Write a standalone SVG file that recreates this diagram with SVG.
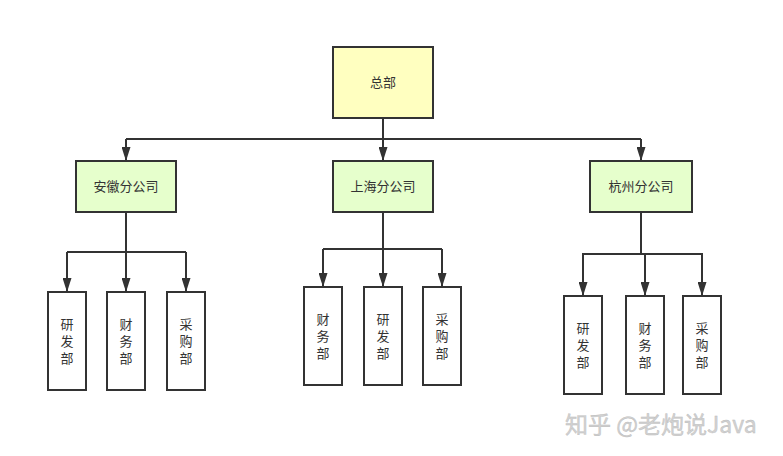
<svg xmlns="http://www.w3.org/2000/svg" width="783" height="456" viewBox="0 0 783 456">
<style>
.box{stroke:#333;stroke-width:2}
.top{fill:#ffffc0}
.br{fill:#e6ffcc}
.dep{fill:#fff}
.t{font-family:"Liberation Sans","Noto Sans CJK SC",sans-serif;font-size:13px;fill:#333;text-anchor:middle;dominant-baseline:central}
.ln{stroke:#333;stroke-width:2;fill:none}
.wm{font-family:"Noto Sans CJK SC","Liberation Sans",sans-serif;font-size:23px;fill:#d2d2d2;stroke:#bbb;stroke-width:0.4}
</style>
<defs>
<marker id="ah" viewBox="0 0 14 9" refX="13" refY="4.5" markerWidth="14" markerHeight="9" orient="auto" markerUnits="userSpaceOnUse">
<path d="M0,0 L14,4.5 L0,9 z" fill="#333"/>
</marker>
</defs>
<rect width="783" height="456" fill="#fff"/>
<g id="connectors">
<path class="ln" d="M383,118 V160"/>
<path class="ln" d="M126,139 H641"/>
<path class="ln" d="M126,139 V160" marker-end="url(#ah)"/>
<path class="ln" d="M383,139 V160" marker-end="url(#ah)"/>
<path class="ln" d="M641,139 V160" marker-end="url(#ah)"/>
<path class="ln" d="M126,212 V291" marker-end="url(#ah)"/>
<path class="ln" d="M67,252 H186"/>
<path class="ln" d="M67,252 V291" marker-end="url(#ah)"/>
<path class="ln" d="M186,252 V291" marker-end="url(#ah)"/>
<path class="ln" d="M383,212 V286" marker-end="url(#ah)"/>
<path class="ln" d="M323,249 H442"/>
<path class="ln" d="M323,249 V286" marker-end="url(#ah)"/>
<path class="ln" d="M442,249 V286" marker-end="url(#ah)"/>
<path class="ln" d="M641,212 V254 H583 V295" marker-end="url(#ah)"/>
<path class="ln" d="M641,254 H702 V295" marker-end="url(#ah)"/>
<path class="ln" d="M645,254 V295" marker-end="url(#ah)"/>
</g>
<g id="hq"><rect class="box top" x="333" y="47" width="100" height="71"/><text class="t" x="383" y="82.5">总部</text></g>
<g id="anhui"><rect class="box br" x="76" y="161" width="100" height="51"/><text class="t" x="126" y="186.5">安徽分公司</text></g>
<g id="shanghai"><rect class="box br" x="333" y="161" width="100" height="51"/><text class="t" x="383" y="186.5">上海分公司</text></g>
<g id="hangzhou"><rect class="box br" x="590" y="161" width="102" height="51"/><text class="t" x="641" y="186.5">杭州分公司</text></g>
<g id="ah-rd"><rect class="box dep" x="48" y="292" width="38" height="98"/><text class="t" x="67" y="324">研</text><text class="t" x="67" y="341">发</text><text class="t" x="67" y="358">部</text></g>
<g id="ah-fin"><rect class="box dep" x="107" y="292" width="38" height="98"/><text class="t" x="126" y="324">财</text><text class="t" x="126" y="341">务</text><text class="t" x="126" y="358">部</text></g>
<g id="ah-pur"><rect class="box dep" x="167" y="292" width="38" height="98"/><text class="t" x="186" y="324">采</text><text class="t" x="186" y="341">购</text><text class="t" x="186" y="358">部</text></g>
<g id="sh-fin"><rect class="box dep" x="304" y="287" width="38" height="98"/><text class="t" x="323" y="319">财</text><text class="t" x="323" y="336">务</text><text class="t" x="323" y="353">部</text></g>
<g id="sh-rd"><rect class="box dep" x="364" y="287" width="38" height="98"/><text class="t" x="383" y="319">研</text><text class="t" x="383" y="336">发</text><text class="t" x="383" y="353">部</text></g>
<g id="sh-pur"><rect class="box dep" x="423" y="287" width="38" height="98"/><text class="t" x="442" y="319">采</text><text class="t" x="442" y="336">购</text><text class="t" x="442" y="353">部</text></g>
<g id="hz-rd"><rect class="box dep" x="564" y="296" width="38" height="98"/><text class="t" x="583" y="328">研</text><text class="t" x="583" y="345">发</text><text class="t" x="583" y="362">部</text></g>
<g id="hz-fin"><rect class="box dep" x="626" y="296" width="38" height="98"/><text class="t" x="645" y="328">财</text><text class="t" x="645" y="345">务</text><text class="t" x="645" y="362">部</text></g>
<g id="hz-pur"><rect class="box dep" x="683" y="296" width="38" height="98"/><text class="t" x="702" y="328">采</text><text class="t" x="702" y="345">购</text><text class="t" x="702" y="362">部</text></g>
<text class="wm" x="565" y="433">知乎 @老炮说Java</text>
</svg>
